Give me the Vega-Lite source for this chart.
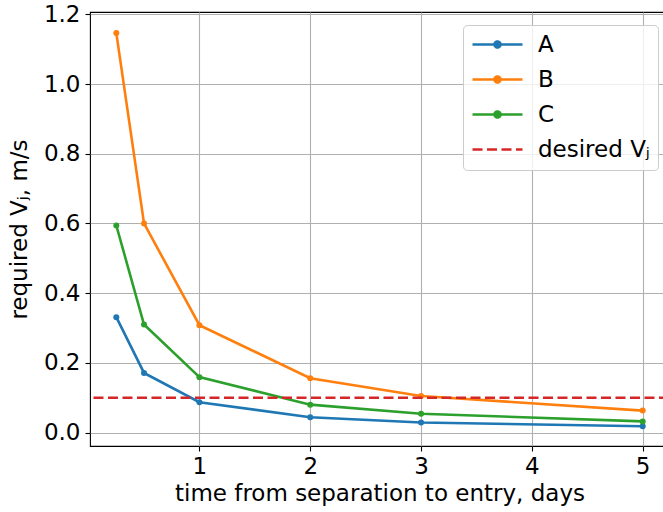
{
  "$schema": "https://vega.github.io/schema/vega-lite/v6.json",
  "autosize": {"type": "none"},
  "padding": {"left": 90, "top": 12, "right": 0, "bottom": 66},
  "width": 579,
  "height": 434,
  "background": "white",
  "config": {
    "font": "DejaVu Sans",
    "view": {"stroke": "black", "strokeWidth": 1.1},
    "axis": {
      "domain": false,
      "grid": true,
      "gridColor": "#b0b0b0",
      "gridWidth": 1.1,
      "tickColor": "black",
      "tickSize": 5,
      "tickWidth": 1.1,
      "labelFont": "DejaVu Sans",
      "labelFontSize": 23,
      "labelColor": "black",
      "titleFont": "DejaVu Sans",
      "titleFontSize": 23,
      "titleFontWeight": "normal",
      "titleColor": "black"
    }
  },
  "datasets": {
    "curves": [
      {"t": 0.25, "v": 0.331, "s": "A"},
      {"t": 0.5, "v": 0.171, "s": "A"},
      {"t": 1, "v": 0.087, "s": "A"},
      {"t": 2, "v": 0.044, "s": "A"},
      {"t": 3, "v": 0.029, "s": "A"},
      {"t": 5, "v": 0.018, "s": "A"},
      {"t": 0.25, "v": 1.146, "s": "B"},
      {"t": 0.5, "v": 0.6, "s": "B"},
      {"t": 1, "v": 0.308, "s": "B"},
      {"t": 2, "v": 0.156, "s": "B"},
      {"t": 3, "v": 0.105, "s": "B"},
      {"t": 5, "v": 0.063, "s": "B"},
      {"t": 0.25, "v": 0.594, "s": "C"},
      {"t": 0.5, "v": 0.31, "s": "C"},
      {"t": 1, "v": 0.159, "s": "C"},
      {"t": 2, "v": 0.08, "s": "C"},
      {"t": 3, "v": 0.054, "s": "C"},
      {"t": 5, "v": 0.032, "s": "C"}
    ],
    "desired": [
      {"v": 0.1, "s": "desired Vⱼ"}
    ]
  },
  "layer": [
    {
      "data": {"name": "curves"},
      "mark": {"type": "line", "strokeWidth": 2.6, "point": {"filled": true, "size": 36}},
      "encoding": {
        "x": {
          "field": "t", "type": "quantitative",
          "scale": {"domain": [0.0125, 5.2375], "nice": false, "zero": false},
          "axis": {"values": [1, 2, 3, 4, 5], "format": "d", "title": "time from separation to entry, days", "labelPadding": 4, "titlePadding": 4}
        },
        "y": {
          "field": "v", "type": "quantitative",
          "scale": {"domain": [-0.0386, 1.2066], "nice": false, "zero": false},
          "axis": {"values": [0, 0.2, 0.4, 0.6, 0.8, 1.0, 1.2], "format": ".1f", "title": "required Vⱼ, m/s", "labelPadding": 5, "titlePadding": 12}
        },
        "color": {
          "field": "s", "type": "nominal",
          "scale": {"domain": ["A", "B", "C", "desired Vⱼ"], "range": ["#1f77b4", "#ff7f0e", "#2ca02c", "#d62728"]},
          "legend": {
            "title": null,
            "orient": "none",
            "legendX": 373,
            "legendY": 13,
            "padding": 8,
            "fillColor": "rgba(255,255,255,0.8)",
            "strokeColor": "#cccccc",
            "cornerRadius": 4,
            "labelFontSize": 23,
            "labelFont": "DejaVu Sans",
            "labelColor": "black",
            "symbolSize": 100,
            "symbolStrokeWidth": 2.6,
            "symbolType": "M-2,0H8",
            "labelOffset": 44,
            "rowPadding": 11,
            "labelLimit": 300,
            "encode": {
              "symbols": {
                "update": {
                  "shape": {"signal": "datum.value === 'desired Vⱼ' ? 'M-2,0H8' : 'M-2,0H8M2.4,0A0.6,0.6 0 1,1 3.6,0A0.6,0.6 0 1,1 2.4,0'"},
                  "fill": {"scale": "color", "field": "value"},
                  "stroke": {"scale": "color", "field": "value"},
                  "strokeDash": {"signal": "datum.value === 'desired Vⱼ' ? [10, 4.5] : [1, 0]"},
                  "opacity": {"value": 1}
                }
              }
            }
          }
        }
      }
    },
    {
      "data": {"name": "desired"},
      "mark": {"type": "rule", "strokeWidth": 2.6, "strokeDash": [10, 4.5]},
      "encoding": {
        "y": {"field": "v", "type": "quantitative"},
        "color": {"field": "s", "type": "nominal"}
      }
    }
  ]
}
